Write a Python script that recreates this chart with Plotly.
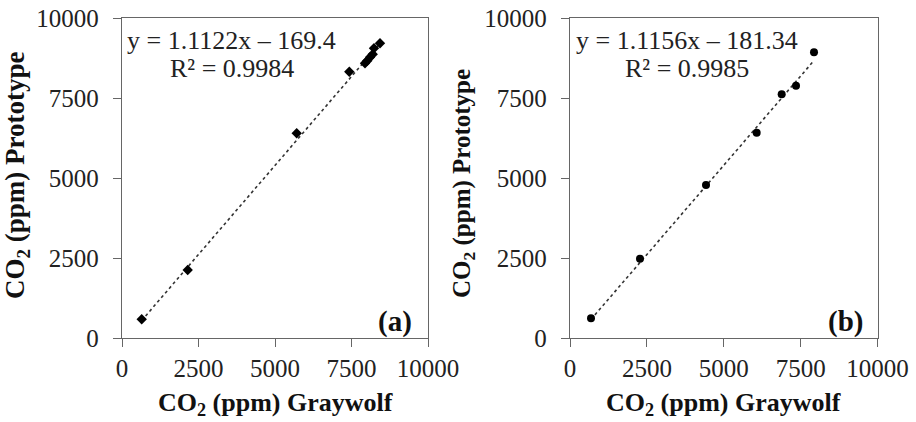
import plotly.graph_objects as go

# ---- data ----
a_x = [644, 2147, 5709, 7428, 7941, 8016, 8105, 8193, 8235, 8431]
a_y = [584, 2125, 6397, 8322, 8584, 8666, 8772, 8866, 9053, 9209]
b_x = [683, 2276, 4423, 6071, 6884, 7350, 7935]
b_y = [616, 2478, 4781, 6416, 7616, 7884, 8928]
a_fit = (1.1122, -169.4)
b_fit = (1.1156, -181.34)
a_eq = ["y = 1.1122x – 169.4", "R² = 0.9984"]
b_eq = ["y = 1.1156x – 181.34", "R² = 0.9985"]
tick_vals = [0, 2500, 5000, 7500, 10000]
tick_text = ["0", "2500", "5000", "7500", "10000"]
x_title = "CO<sub>2</sub> (ppm) Graywolf"
y_title = "CO<sub>2</sub> (ppm) Prototype"
panel_labels = ["(a)", "(b)"]

W, H = 916, 422
FONT = "Liberation Serif"
LINE = "#666666"

fig = go.Figure()

def fit_line(xs, fit):
    lo, hi = min(xs), max(xs)
    return [lo, hi], [fit[0] * lo + fit[1], fit[0] * hi + fit[1]]

for i, (xs, ys, fit, sym, size) in enumerate([
        (a_x, a_y, a_fit, "diamond", 8),
        (b_x, b_y, b_fit, "circle", 8)]):
    xa = "x" if i == 0 else "x2"
    ya = "y" if i == 0 else "y2"
    lx, ly = fit_line(xs, fit)
    fig.add_trace(go.Scatter(x=lx, y=ly, mode="lines", xaxis=xa, yaxis=ya,
                             line=dict(color="#333333", width=1.6, dash="dot"),
                             showlegend=False, hoverinfo="skip"))
    fig.add_trace(go.Scatter(x=xs, y=ys, mode="markers", xaxis=xa, yaxis=ya,
                             marker=dict(symbol=sym, size=size, color="black"),
                             showlegend=False))

px = lambda v: v / W
py = lambda v: 1 - v / H
xdoms = [[px(122), px(428)], [px(570), px(877.5)]]
ydom = [py(338), py(18)]

def main_axis(dom, anchor, is_x):
    d = dict(domain=dom, anchor=anchor, range=[0, 10000], tickvals=tick_vals,
             ticktext=tick_text, ticks="outside", ticklen=8, tickwidth=1.3,
             tickcolor=LINE, showline=True, linecolor=LINE, linewidth=1.3,
             mirror=True, showgrid=False, zeroline=False, automargin=False,
             tickfont=dict(family=FONT, size=25, color="#222222"),
             fixedrange=True)
    d["ticklabelstandoff"] = 0 if is_x else 9
    return d

def overlay_axis(dom, anchor, over):
    return dict(domain=dom, anchor=anchor, overlaying=over, range=[0, 10000],
                tickvals=tick_vals, ticks="inside", ticklen=8, tickwidth=1.3,
                tickcolor=LINE, showticklabels=False, showline=False,
                showgrid=False, zeroline=False, fixedrange=True, automargin=False)

layout = dict(
    width=W, height=H, margin=dict(l=0, r=0, t=0, b=0, autoexpand=False),
    plot_bgcolor="white", paper_bgcolor="white", showlegend=False,
    xaxis=main_axis(xdoms[0], "y", True),
    yaxis=main_axis(ydom, "x", False),
    xaxis2=main_axis(xdoms[1], "y2", True),
    yaxis2=main_axis(ydom, "x2", False),
    xaxis3=overlay_axis(xdoms[0], "y", "x"),
    yaxis3=overlay_axis(ydom, "x", "y"),
    xaxis4=overlay_axis(xdoms[1], "y2", "x2"),
    yaxis4=overlay_axis(ydom, "x2", "y2"),
)
fig.update_layout(**layout)

annos = []
for i, (eq, eqx, lab_x) in enumerate([(a_eq, 3585, 8922), (b_eq, 3800, 8943)]):
    xr = "x" if i == 0 else "x2"
    yr = "y" if i == 0 else "y2"
    annos.append(dict(x=eqx, y=9312, xref=xr, yref=yr, text=eq[0], showarrow=False,
                      font=dict(family=FONT, size=26, color="#222222"),
                      xanchor="center", yanchor="middle"))
    annos.append(dict(x=eqx, y=8437, xref=xr, yref=yr, text=eq[1], showarrow=False,
                      font=dict(family=FONT, size=26, color="#222222"),
                      xanchor="center", yanchor="middle"))
    annos.append(dict(x=lab_x, y=530, xref=xr, yref=yr, text="<b>%s</b>" % panel_labels[i],
                      showarrow=False, font=dict(family=FONT, size=29, color="#111111"),
                      xanchor="center", yanchor="middle"))
    cx = (xdoms[i][0] + xdoms[i][1]) / 2
    annos.append(dict(x=cx, y=py(404), xref="paper", yref="paper",
                      text="<b>%s</b>" % x_title, showarrow=False,
                      font=dict(family=FONT, size=26, color="#111111"),
                      xanchor="center", yanchor="middle"))
    ty_x, ty_y, ty_s = [(17, 176, 27), (463, 184, 25)][i]
    annos.append(dict(x=px(ty_x), y=py(ty_y), xref="paper", yref="paper",
                      text="<b>%s</b>" % y_title, showarrow=False, textangle=-90,
                      font=dict(family=FONT, size=ty_s, color="#111111"),
                      xanchor="center", yanchor="middle"))
fig.update_layout(annotations=annos)

fig.write_html("out.html")
